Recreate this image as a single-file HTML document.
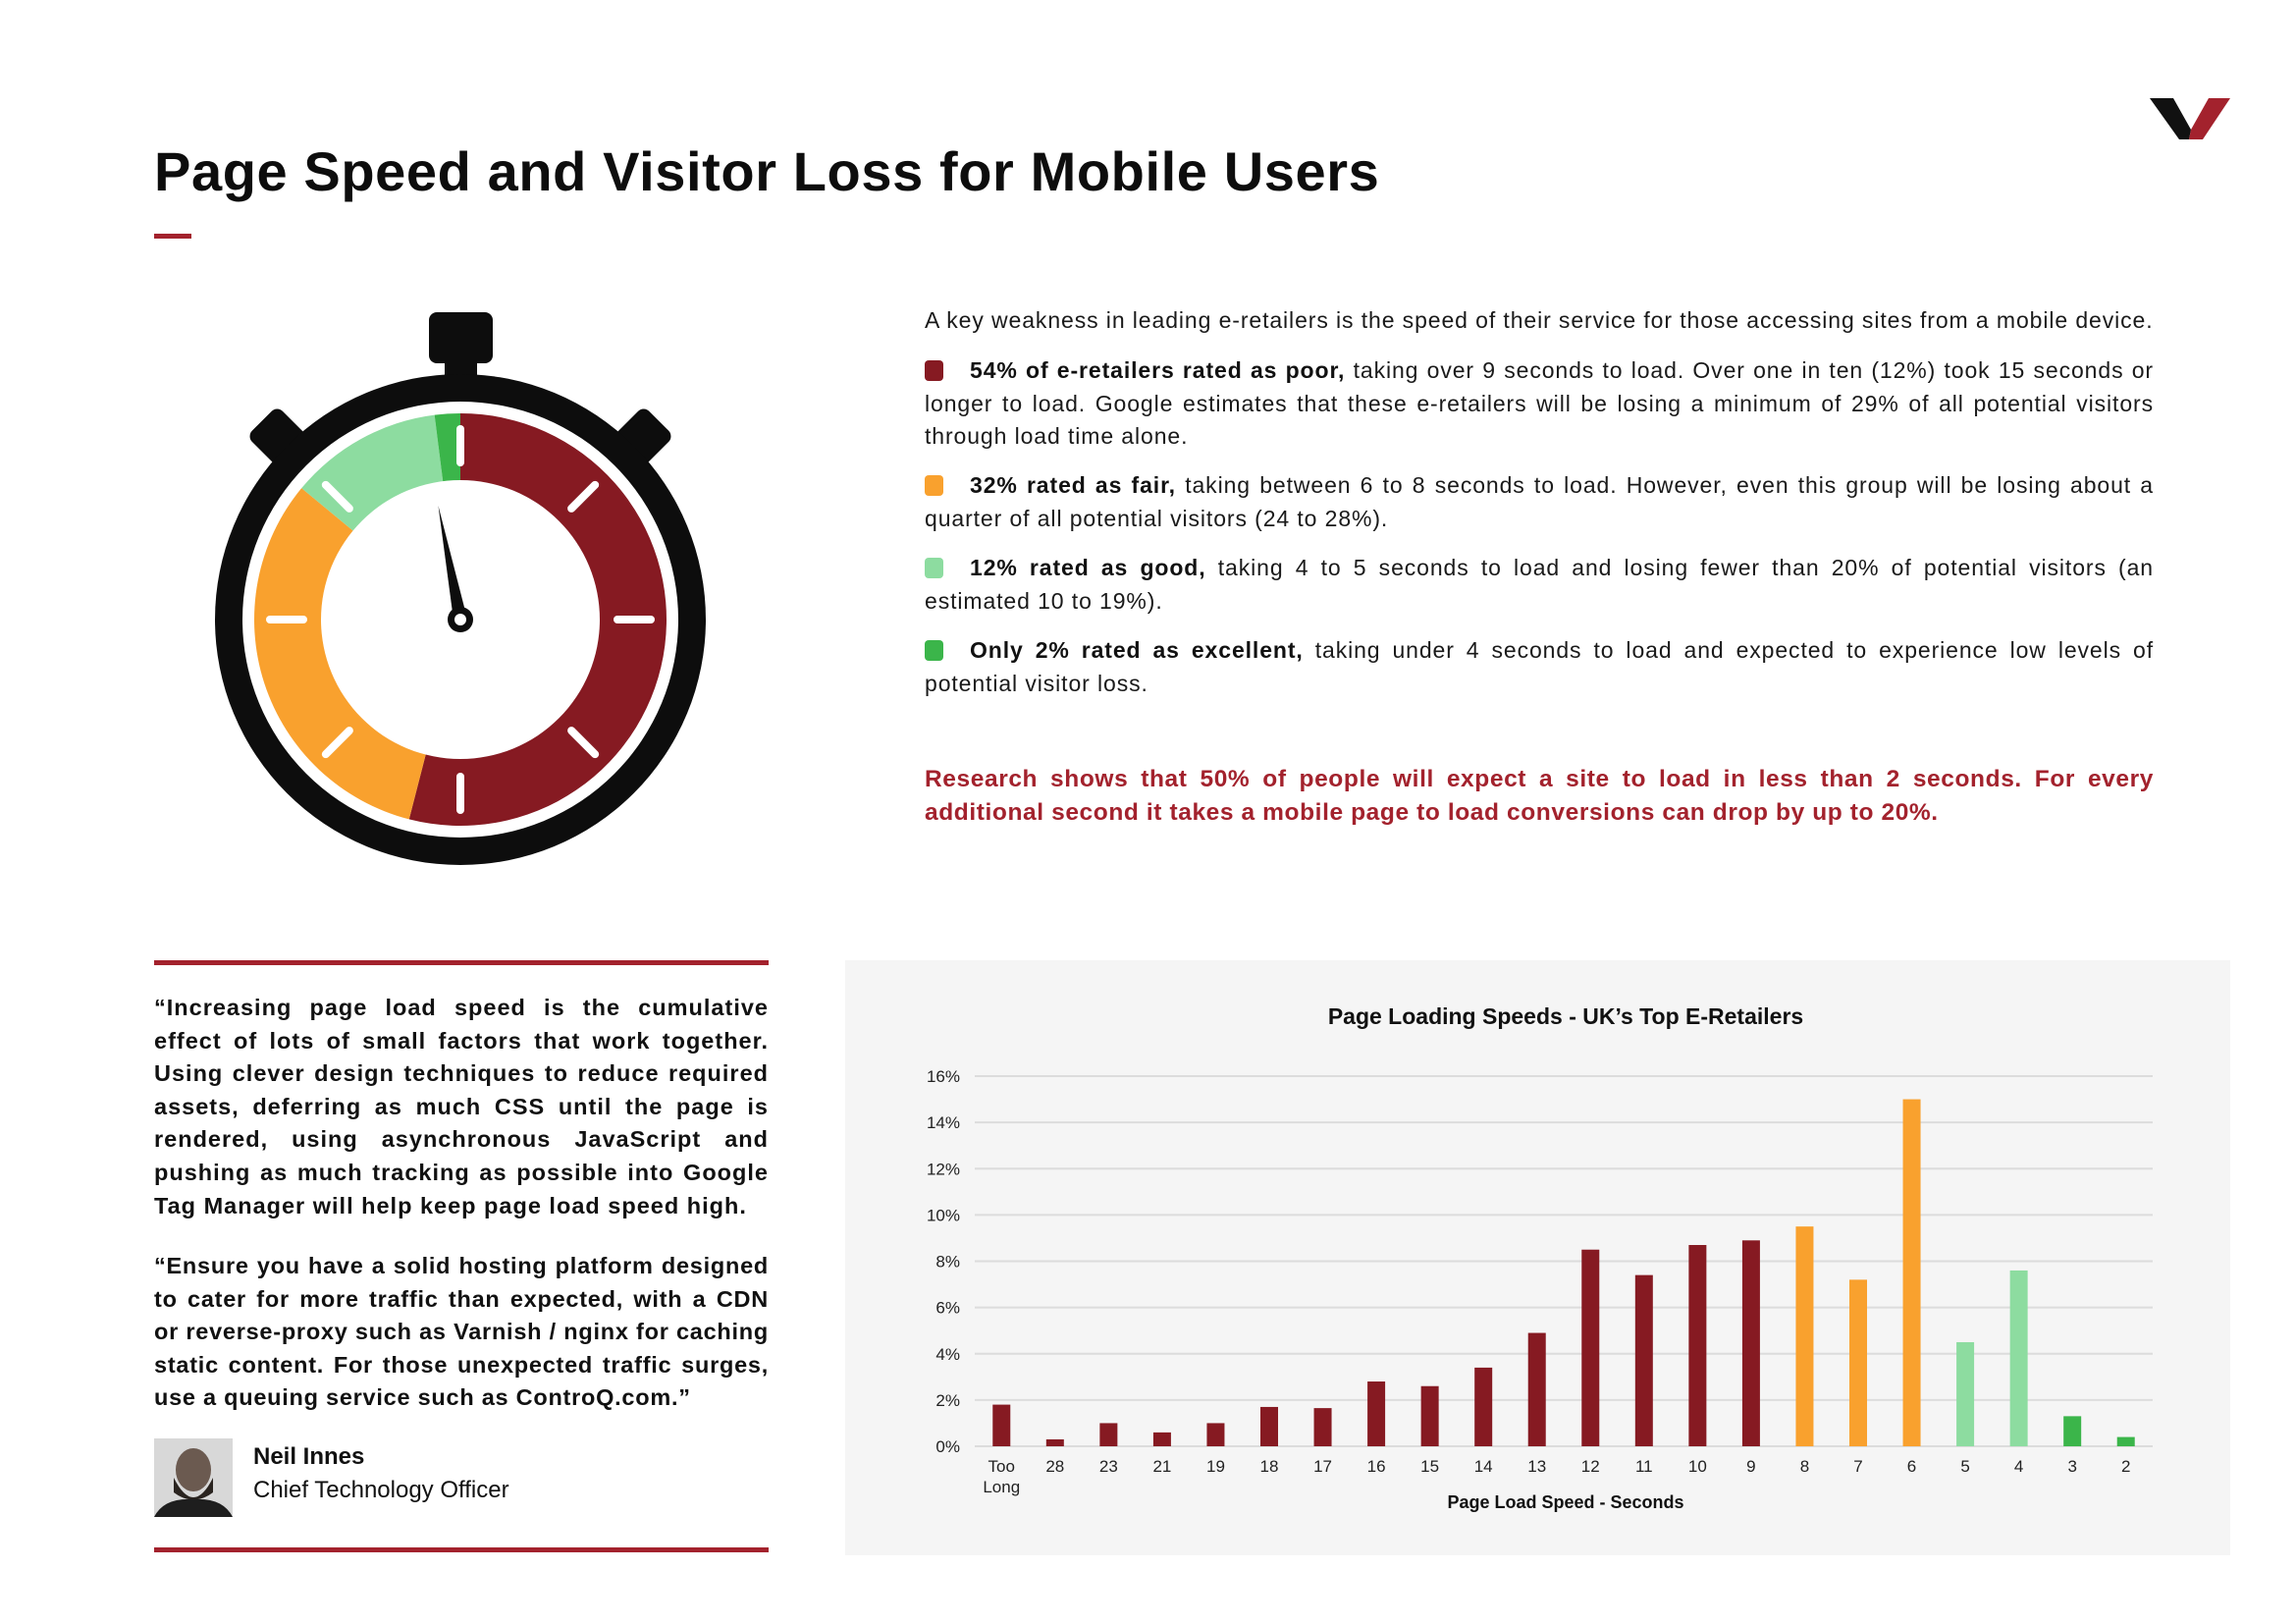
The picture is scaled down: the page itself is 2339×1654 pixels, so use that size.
<!DOCTYPE html>
<html><head><meta charset="utf-8">
<style>
*{margin:0;padding:0;box-sizing:border-box}
body{width:2339px;height:1654px;background:#fff;position:relative;overflow:hidden;font-family:"Liberation Sans",sans-serif;color:#111}
.abs{position:absolute}
.p{position:absolute;left:942px;width:1252px;font-size:23px;line-height:33.5px;text-align:justify;color:#1a1a1a;letter-spacing:0.9px}
.p b{color:#111}
.sq{display:inline-block;width:19px;height:21px;border-radius:4px;margin-right:27px;vertical-align:-3px}
.q{position:absolute;left:157px;width:626px;font-size:23.5px;line-height:33.6px;font-weight:bold;text-align:justify;color:#111;letter-spacing:0.75px}
</style></head><body>
<h1 class="abs" style="left:157px;top:142px;font-size:56px;font-weight:bold;letter-spacing:0.6px;color:#0d0d0d;white-space:nowrap">Page Speed and Visitor Loss for Mobile Users</h1>
<div class="abs" style="left:157px;top:238px;width:38px;height:5px;background:#a3222d"></div>
<svg class="abs" style="left:2190px;top:96px" width="84" height="48" viewBox="0 0 84 48">
<path d="M0 4 L24 4 L42 36 L40 46 L30 46 Z" fill="#111"/>
<path d="M42 36 L60 4 L82 4 L54 46 L40 46 Z" fill="#a3222d"/>
</svg>

<svg class="abs" style="left:200px;top:300px" width="540" height="600" viewBox="200 300 540 600">
<rect x="437" y="318" width="65" height="52" rx="8" fill="#0d0d0d"/>
<rect x="453" y="360" width="33" height="30" fill="#0d0d0d"/>
<g transform="rotate(-45 469 631)"><rect x="447" y="345" width="44" height="50" rx="8" fill="#0d0d0d"/></g>
<g transform="rotate(45 469 631)"><rect x="447" y="345" width="44" height="50" rx="8" fill="#0d0d0d"/></g>
<circle cx="469" cy="631" r="250" fill="#0d0d0d"/>
<circle cx="469" cy="631" r="222" fill="#fff"/>
<g id="ring"></g>
<circle cx="469" cy="631" r="142" fill="#fff"/>
<g id="ticks"></g>
<polygon id="needle" points="0,0 0,0" fill="#0d0d0d"/>
<circle cx="469" cy="631" r="13" fill="#0d0d0d"/>
<circle cx="469" cy="631" r="6" fill="#fff"/>
</svg>

<div class="p" style="top:310px;text-align:left;white-space:nowrap">A key weakness in leading e-retailers is the speed of their service for those accessing sites from a mobile device.</div>
<div class="p" style="top:361px"><span class="sq" style="background:#861a22"></span><b>54% of e-retailers rated as poor,</b> taking over 9 seconds to load. Over one in ten (12%) took 15 seconds or longer to load. Google estimates that these e-retailers will be losing a minimum of 29% of all potential visitors through load time alone.</div>
<div class="p" style="top:478px"><span class="sq" style="background:#f9a12e"></span><b>32% rated as fair,</b> taking between 6 to 8 seconds to load. However, even this group will be losing about a quarter of all potential visitors (24 to 28%).</div>
<div class="p" style="top:562px"><span class="sq" style="background:#8ddca0"></span><b>12% rated as good,</b> taking 4 to 5 seconds to load and losing fewer than 20% of potential visitors (an estimated 10 to 19%).</div>
<div class="p" style="top:646px"><span class="sq" style="background:#3bb54a"></span><b>Only 2% rated as excellent,</b> taking under 4 seconds to load and expected to experience low levels of potential visitor loss.</div>
<div class="p" style="top:777px;font-weight:bold;font-size:24.5px;line-height:34px;color:#a3222d;letter-spacing:0.6px">Research shows that 50% of people will expect a site to load in less than 2 seconds. For every additional second it takes a mobile page to load conversions can drop by up to 20%.</div>

<div class="abs" style="left:157px;top:978px;width:626px;height:5px;background:#a3222d"></div>
<div class="q" style="top:1010px;letter-spacing:1.0px">“Increasing page load speed is the cumulative effect of lots of small factors that work together. Using clever design techniques to reduce required assets, deferring as much CSS until the page is rendered, using asynchronous JavaScript and pushing as much tracking as possible into Google Tag Manager will help keep page load speed high.</div>
<div class="q" style="top:1273px">“Ensure you have a solid hosting platform designed to cater for more traffic than expected, with a CDN or reverse-proxy such as Varnish / nginx for caching static content. For those unexpected traffic surges, use a queuing service such as ControQ.com.”</div>
<svg class="abs" style="left:157px;top:1465px" width="80" height="80">
<rect width="80" height="80" fill="#d8d8d8"/><ellipse cx="40" cy="32" rx="18" ry="22" fill="#6b5a50"/><path d="M20 40 Q40 80 60 40 L60 55 Q40 70 20 55Z" fill="#2a2420"/><path d="M0 80 Q10 60 40 62 Q70 60 80 80Z" fill="#1e1e1e"/></svg>
<div class="abs" style="left:258px;top:1470px;font-size:24px;font-weight:bold">Neil Innes</div>
<div class="abs" style="left:258px;top:1504px;font-size:24px">Chief Technology Officer</div>
<div class="abs" style="left:157px;top:1576px;width:626px;height:5px;background:#a3222d"></div>

<div class="abs" style="left:861px;top:978px;width:1411px;height:606px;background:#f5f5f5"></div>
<svg id="chart" class="abs" style="left:0;top:0" width="2339" height="1654"></svg>

<script>
const categories=["Too Long","28","23","21","19","18","17","16","15","14","13","12","11","10","9","8","7","6","5","4","3","2"];
const values=[1.8,0.3,1.0,0.6,1.0,1.7,1.65,2.8,2.6,3.4,4.9,8.5,7.4,8.7,8.9,9.5,7.2,15.0,4.5,7.6,1.3,0.4];
const groups=["poor","poor","poor","poor","poor","poor","poor","poor","poor","poor","poor","poor","poor","poor","poor","fair","fair","fair","good","good","excellent","excellent"];
const yTicks=[0,2,4,6,8,10,12,14,16];
const gaugeShares=[54,32,12,2];
const gaugeColors=["#861a22","#f9a12e","#8ddca0","#3bb54a"];
const colorMap={poor:"#861a22",fair:"#f9a12e",good:"#8ddca0",excellent:"#3bb54a"};
const NS="http://www.w3.org/2000/svg";
function mk(parent,tag,attrs,text){const e=document.createElementNS(NS,tag);for(const k in attrs)e.setAttribute(k,attrs[k]);if(text!==undefined)e.textContent=text;parent.appendChild(e);return e;}

const cx=469,cy=631,R=210;
const ring=document.getElementById('ring');
let acc=0;const tot=gaugeShares.reduce((a,b)=>a+b,0);
function pt(a,r){const t=a*Math.PI/180;return [cx+r*Math.sin(t),cy-r*Math.cos(t)];}
gaugeShares.forEach((s,i)=>{const a0=acc/tot*360,a1=(acc+s)/tot*360;acc+=s;
const p0=pt(a0,R),p1=pt(a1,R);const large=(a1-a0)>180?1:0;
const seg=mk(ring,'path',{d:`M${cx},${cy} L${p0[0]},${p0[1]} A${R},${R} 0 ${large} 1 ${p1[0]},${p1[1]} Z`,fill:gaugeColors[i]});

});
const ticks=document.getElementById('ticks');
for(let a=0;a<360;a+=45){const p0=pt(a,160),p1=pt(a,194);
const t=mk(ticks,'line',{x1:p0[0],y1:p0[1],x2:p1[0],y2:p1[1],stroke:'#fff','stroke-width':8,'stroke-linecap':'round'});

}
(function(){const a=-11,tip=pt(a,118),l=pt(a-90,7),r=pt(a+90,7);
document.getElementById('needle').setAttribute('points',`${tip[0]},${tip[1]} ${l[0]},${l[1]} ${r[0]},${r[1]}`);})();

const svg=document.getElementById('chart');
const x0=993,x1=2193,yBase=1473,yTop=1096,yMax=16;
const n=categories.length,step=(x1-x0)/n;
const xC=i=>x0+step*(i+0.5);
const yS=v=>yBase-(v/yMax)*(yBase-yTop);
const title=mk(svg,'text',{x:1595,y:1043,'text-anchor':'middle','font-size':23,'font-weight':'bold',fill:'#111','font-family':'Liberation Sans'},'Page Loading Speeds - UK’s Top E-Retailers');


yTicks.forEach(v=>{const g=mk(svg,'line',{x1:x0,x2:x1,y1:yS(v),y2:yS(v),stroke:'#dcdcdc','stroke-width':2});


const t=mk(svg,'text',{x:978,y:yS(v)+6,'text-anchor':'end','font-size':17,fill:'#222','font-family':'Liberation Sans'},v+'%');

});
values.forEach((v,i)=>{const b=mk(svg,'rect',{x:xC(i)-9,width:18,y:yS(v),height:yBase-yS(v),fill:colorMap[groups[i]]});


const words=categories[i].split(' ');
words.forEach((w,k)=>{const t=mk(svg,'text',{x:xC(i),y:1499+k*21,'text-anchor':'middle','font-size':17,fill:'#222','font-family':'Liberation Sans'},w);

});});
const xt=mk(svg,'text',{x:1595,y:1536,'text-anchor':'middle','font-size':18,'font-weight':'bold',fill:'#111','font-family':'Liberation Sans'},'Page Load Speed - Seconds');


</script>
</body></html>
